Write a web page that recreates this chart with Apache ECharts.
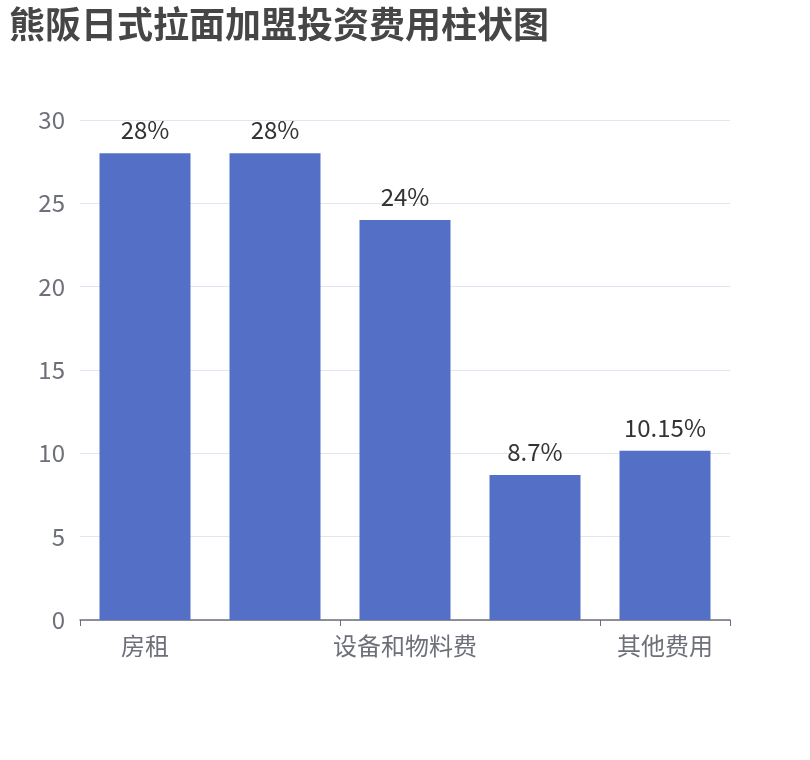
<!DOCTYPE html>
<html>
<head>
<meta charset="utf-8">
<script src="https://cdn.jsdelivr.net/npm/echarts@6/dist/echarts.min.js"></script>
<style>
  html, body { margin: 0; padding: 0; background: #fff; }
  #chart { width: 810px; height: 760px; }
</style>
</head>
<body>
<div id="chart"></div>
<script>
// 费用分类
const categories = ["房租", "加盟费", "设备和物料费", "装修费", "其他费用"];
// 各项占比（%）
const percentValues = [28, 28, 24, 8.7, 10.15];

const FONT = "Noto Sans CJK SC";

const myChart = echarts.init(document.getElementById("chart"));
myChart.setOption({
  title: {
    text: "熊阪日式拉面加盟投资费用柱状图",
    left: 4,
    top: 1,
    textStyle: { fontSize: 36, fontWeight: "bold", color: "#464646", fontFamily: FONT },
  },
  grid: { left: 80, right: 80, top: 120, bottom: 140, containLabel: false },
  xAxis: {
    type: "category",
    data: categories,
    axisLine: { lineStyle: { color: "#6E7079", width: 1.5 } },
    axisTick: { show: true, length: 6 },
    axisLabel: { fontSize: 24, color: "#6E7079", fontFamily: FONT, margin: 14 },
  },
  yAxis: {
    type: "value",
    min: 0,
    max: 30,
    interval: 5,
    splitLine: { lineStyle: { color: "#E0E6F1" } },
    axisLabel: { fontSize: 24, color: "#6E7079", fontFamily: FONT, margin: 15 },
  },
  series: [
    {
      type: "bar",
      data: percentValues,
      barWidth: "70%",
      itemStyle: { color: "#5470c6" },
      label: {
        show: true,
        position: "top",
        distance: 11,
        formatter: "{c}%",
        fontSize: 24,
        color: "#333",
        fontFamily: FONT,
      },
    },
  ],
});
</script>
</body>
</html>
